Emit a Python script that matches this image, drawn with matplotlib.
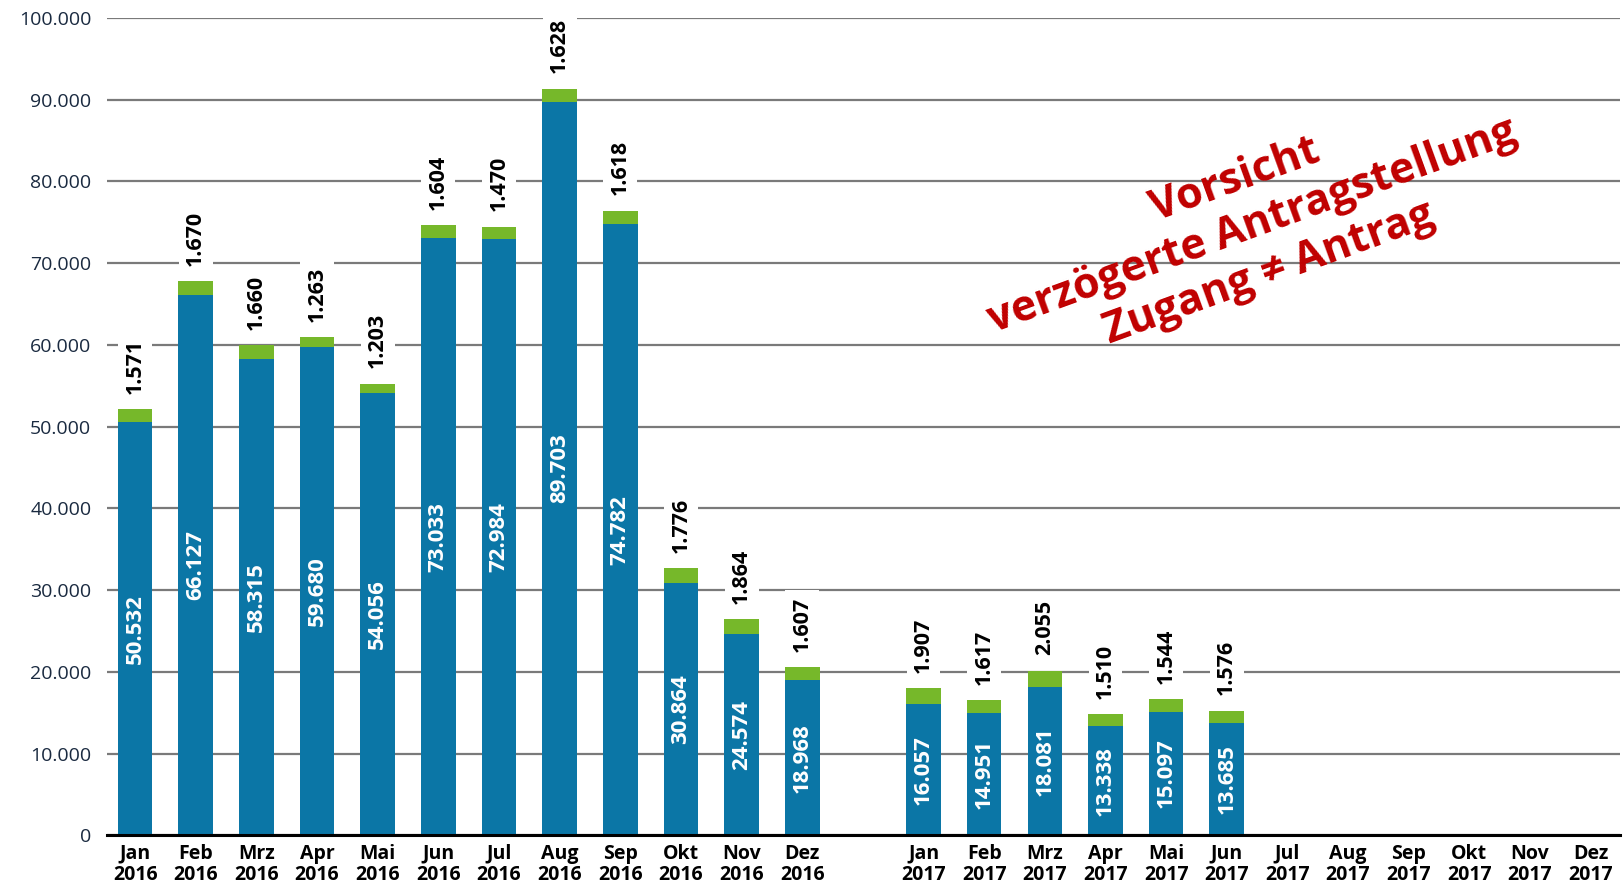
import matplotlib.pyplot as plt
import numpy as np

plt.rcParams['font.family'] = ['Open Sans', 'DejaVu Sans']

months = ['Jan', 'Feb', 'Mrz', 'Apr', 'Mai', 'Jun', 'Jul', 'Aug', 'Sep', 'Okt', 'Nov', 'Dez']
blue_2016 = [50532, 66127, 58315, 59680, 54056, 73033, 72984, 89703, 74782, 30864, 24574, 18968]
green_2016 = [1571, 1670, 1660, 1263, 1203, 1604, 1470, 1628, 1618, 1776, 1864, 1607]
blue_2017 = [16057, 14951, 18081, 13338, 15097, 13685]
green_2017 = [1907, 1617, 2055, 1510, 1544, 1576]

BLUE = '#0b76a6'
GREEN = '#76b82a'
RED = '#c00000'

def fmt(v):
    return f"{v:,}".replace(",", ".")

# one empty slot between Dez 2016 and Jan 2017
pos_2016 = np.arange(12)
pos_2017 = np.arange(13, 25)
blue = np.array(blue_2016 + blue_2017)
green = np.array(green_2016 + green_2017)
bar_pos = np.concatenate([pos_2016, pos_2017[:len(blue_2017)]])

fig = plt.figure(figsize=(16.23, 8.9), dpi=100)
ax = fig.add_axes([0.0657, 0.0615, 0.9323, 0.9185])

w = 0.57
ax.bar(bar_pos, blue, w, color=BLUE, zorder=3)
ax.bar(bar_pos, green, w, bottom=blue, color=GREEN, zorder=3)

for x, b, g in zip(bar_pos, blue, green):
    ax.text(x, b / 2, fmt(b), rotation=90, ha='center', va='center',
            color='white', fontsize=16, fontweight='bold', zorder=4)
    ax.annotate(fmt(g), (x, b + g), xytext=(0, 11), textcoords='offset points',
                rotation=90, ha='center', va='bottom', fontsize=15.5,
                fontweight='bold', color='black', zorder=4, annotation_clip=False,
                bbox=dict(boxstyle='square,pad=0.3', fc='white', ec='none'))

ax.set_ylim(0, 100000)
ax.set_xlim(-0.47, 24.48)
ax.set_yticks(np.arange(0, 100001, 10000))
ax.set_yticklabels([fmt(v) for v in range(0, 100001, 10000)], fontsize=14, color='#1a2a40')
ax.yaxis.grid(True, color='#7a7a7a', lw=1.6, zorder=0)
ax.set_axisbelow(True)

xt = np.concatenate([pos_2016, pos_2017])
xl = [f"{m}\n2016" for m in months] + [f"{m}\n2017" for m in months]
ax.set_xticks(xt)
ax.set_xticklabels(xl, fontsize=14, fontweight='bold', linespacing=1.12)
ax.tick_params(axis='both', length=0)
ax.tick_params(axis='y', pad=11)
ax.tick_params(axis='x', pad=6)

for s in ['top', 'right', 'left']:
    ax.spines[s].set_visible(False)
ax.spines['bottom'].set_linewidth(2.2)
ax.spines['bottom'].set_zorder(5)

ax.text(18.42, 74500, "Vorsicht\nverzögerte Antragstellung\nZugang \u2260 Antrag",
        rotation=20, ha='center', va='center', multialignment='center',
        fontsize=31, fontweight='bold', color=RED, linespacing=1.2,
        rotation_mode='anchor', zorder=6)

fig.savefig('out.png', dpi=100)
